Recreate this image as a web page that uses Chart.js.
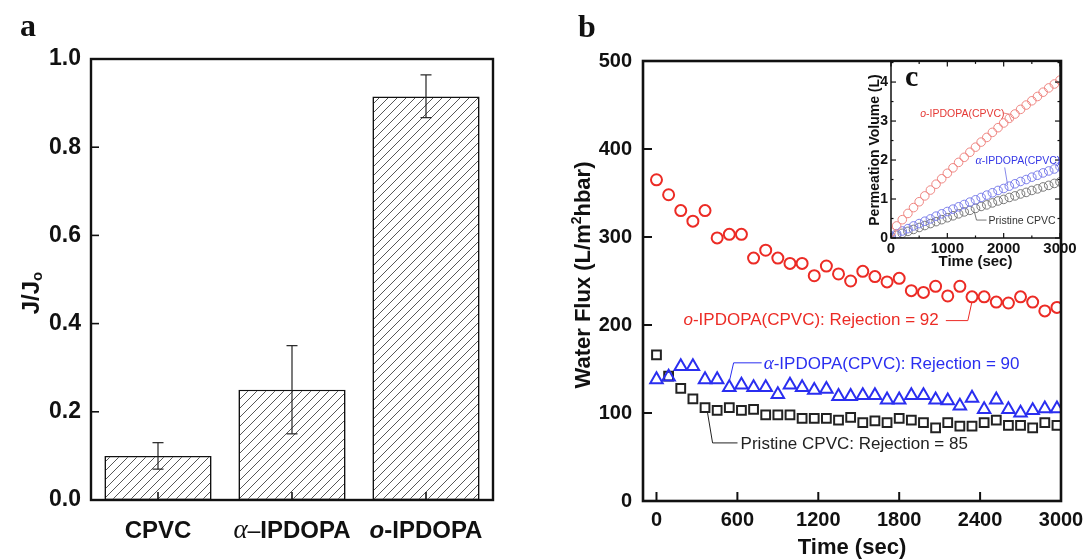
<!DOCTYPE html>
<html>
<head>
<meta charset="utf-8">
<script src="https://cdn.jsdelivr.net/npm/chart.js@4/dist/chart.umd.min.js"></script>
<style>
  html, body { margin:0; padding:0; background:#fff; }
  #wrap { position:relative; width:1083px; height:560px; overflow:hidden; background:#fff; }
  canvas { position:absolute; }
</style>
</head>
<body>
<div id="wrap">
  <canvas id="chartA" width="540" height="560" style="left:0;top:0;"></canvas>
  <canvas id="chartB" width="560" height="560" style="left:560px;top:0;"></canvas>
  <canvas id="chartC" width="233" height="230" style="left:850px;top:50px;"></canvas>
</div>
<script>
// ─── Data: panel a (J/Jo) ─────────────────────────────────────────────────────
const barLabels = ['CPVC', 'α–IPDOPA', 'o-IPDOPA'];
const ratioValues = [0.10, 0.25, 0.915];
const ratioErrLow = [0.07, 0.15, 0.867];
const ratioErrHigh = [0.13, 0.35, 0.964];
const ratioTicks = [0, 0.2, 0.4, 0.6, 0.8, 1.0];

// ─── Data: panel b (water flux) ───────────────────────────────────────────────
const timeSec = [0, 90, 180, 270, 360, 450, 540, 630, 720, 810, 900, 990, 1080, 1170, 1260, 1350, 1440,
  1530, 1620, 1710, 1800, 1890, 1980, 2070, 2160, 2250, 2340, 2430, 2520, 2610, 2700, 2790, 2880, 2970];
const fluxOIpdopa = [365, 348, 330, 318, 330, 299, 303, 303, 276, 285, 276, 270, 270, 256, 267, 258, 250,
  261, 255, 249, 253, 239, 237, 244, 233, 244, 232, 232, 226, 225, 232, 226, 216, 220];
const fluxAlphaIpdopa = [138, 141, 153, 153, 138, 138, 129, 132, 129, 129, 121, 132, 129, 126, 127, 119, 119,
  120, 120, 115, 115, 120, 120, 115, 114, 108, 117, 104, 115, 104, 100, 103, 105, 105];
const fluxPristine = [166, 142, 128, 116, 106, 103, 106, 103, 104, 98, 98, 98, 94, 94, 94, 92, 95,
  89, 91, 89, 94, 92, 89, 83, 89, 85, 85, 89, 92, 86, 86, 83, 89, 86];
const fluxTimeTicks = [0, 600, 1200, 1800, 2400, 3000];
const fluxTicks = [0, 100, 200, 300, 400, 500];

// ─── Data: inset c (permeation volume) ────────────────────────────────────────
const insetTime = [0, 100, 200, 300, 400, 500, 600, 700, 800, 900, 1000, 1100, 1200, 1300, 1400, 1500,
  1600, 1700, 1800, 1900, 2000, 2100, 2200, 2300, 2400, 2500, 2600, 2700, 2800, 2900, 3000];
const volOIpdopa = [0.15, 0.31, 0.47, 0.63, 0.78, 0.93, 1.08, 1.23, 1.38, 1.52, 1.66, 1.80, 1.94, 2.07, 2.20, 2.33,
  2.46, 2.58, 2.71, 2.83, 2.95, 3.07, 3.18, 3.30, 3.41, 3.52, 3.63, 3.74, 3.85, 3.95, 4.05];
const volAlphaIpdopa = [0.05, 0.11, 0.18, 0.24, 0.31, 0.37, 0.43, 0.49, 0.56, 0.62, 0.68, 0.74, 0.80, 0.86, 0.92, 0.98,
  1.04, 1.10, 1.16, 1.22, 1.27, 1.33, 1.39, 1.45, 1.50, 1.56, 1.61, 1.67, 1.72, 1.77, 1.83];
const volPristine = [0.02, 0.07, 0.12, 0.17, 0.22, 0.27, 0.32, 0.37, 0.42, 0.47, 0.52, 0.57, 0.62, 0.67, 0.71, 0.76,
  0.81, 0.85, 0.90, 0.95, 0.99, 1.04, 1.08, 1.13, 1.17, 1.22, 1.26, 1.31, 1.35, 1.40, 1.44];
const insetTimeTicks = [0, 1000, 2000, 3000];
const insetVolTicks = [0, 1, 2, 3, 4];

// ─── Style ────────────────────────────────────────────────────────────────────
const SANS = 'Arial, "Liberation Sans", sans-serif';
const SERIF = '"Times New Roman", "Liberation Serif", serif';
const INK = '#111';
const RED = '#ec2b25';
const BLUE = '#2a2ef0';
const BLACK = '#222';

function pairs(xs, ys) {
  return xs.map((x, i) => ({ x, y: ys[i] }));
}

function line(ctx, pts) {
  ctx.beginPath();
  ctx.moveTo(pts[0][0], pts[0][1]);
  for (let i = 1; i < pts.length; i++) ctx.lineTo(pts[i][0], pts[i][1]);
  ctx.stroke();
}

// draws text made of several font runs; parts = [[text, font, baselineShift], ...]
function drawRich(ctx, parts, x, y, align) {
  ctx.textBaseline = 'alphabetic';
  ctx.textAlign = 'left';
  let total = 0;
  parts.forEach(p => { ctx.font = p[1]; total += ctx.measureText(p[0]).width; });
  let cx = align === 'center' ? x - total / 2 : x;
  parts.forEach(p => {
    ctx.font = p[1];
    ctx.fillText(p[0], cx, y + (p[2] || 0));
    cx += ctx.measureText(p[0]).width;
  });
}

// inward tick marks + frame around the plot area
function frameTicks(id, o) {
  return {
    id,
    afterDatasetsDraw(chart) {
      const { ctx, chartArea: a, scales } = chart;
      const xs = scales.x, ys = scales.y;
      ctx.save();
      ctx.strokeStyle = INK;
      ctx.lineWidth = o.tickWidth;
      const yv = ys.ticks.map(t => t.value);
      const xv = xs.ticks.map(t => t.value);
      yv.forEach(v => {
        const p = ys.getPixelForValue(v);
        line(ctx, [[a.left, p], [a.left + o.tickLen, p]]);
        if (o.mirror) line(ctx, [[a.right, p], [a.right - o.tickLen, p]]);
      });
      xv.forEach(v => {
        const p = xs.getPixelForValue(v);
        line(ctx, [[p, a.bottom], [p, a.bottom - o.tickLen]]);
        if (o.mirror) line(ctx, [[p, a.top], [p, a.top + o.tickLen]]);
      });
      if (o.minor) {
        for (let i = 0; i < yv.length; i++) {
          const v = yv[i] + (yv[1] - yv[0]) / 2;
          if (v > ys.max) break;
          const p = ys.getPixelForValue(v);
          line(ctx, [[a.left, p], [a.left + o.tickLen / 2, p]]);
          line(ctx, [[a.right, p], [a.right - o.tickLen / 2, p]]);
        }
        for (let i = 0; i < xv.length - 1; i++) {
          const p = xs.getPixelForValue((xv[i] + xv[i + 1]) / 2);
          line(ctx, [[p, a.bottom], [p, a.bottom - o.tickLen / 2]]);
          line(ctx, [[p, a.top], [p, a.top + o.tickLen / 2]]);
        }
      }
      ctx.lineWidth = o.frameWidth;
      ctx.strokeRect(a.left, a.top, a.right - a.left, a.bottom - a.top);
      ctx.restore();
    }
  };
}

// ─── Panel a: bar chart with hatch + error bars ───────────────────────────────
const ctxA = document.getElementById('chartA').getContext('2d');
const hatch = (() => {
  const c = document.createElement('canvas');
  c.width = 9; c.height = 9;
  const g = c.getContext('2d');
  g.fillStyle = '#fff';
  g.fillRect(0, 0, 9, 9);
  g.strokeStyle = '#444';
  g.lineWidth = 0.9;
  g.beginPath();
  g.moveTo(-1, 10); g.lineTo(10, -1);
  g.moveTo(-1, 1); g.lineTo(1, -1);
  g.moveTo(8, 10); g.lineTo(10, 8);
  g.stroke();
  return ctxA.createPattern(c, 'repeat');
})();

const errorBars = {
  id: 'errorBars',
  afterDatasetsDraw(chart) {
    const { ctx, scales } = chart;
    ctx.save();
    ctx.strokeStyle = '#222';
    ctx.lineWidth = 1.2;
    ratioValues.forEach((v, i) => {
      const x = scales.x.getPixelForValue(i);
      const lo = scales.y.getPixelForValue(ratioErrLow[i]);
      const hi = scales.y.getPixelForValue(ratioErrHigh[i]);
      line(ctx, [[x, lo], [x, hi]]);
      line(ctx, [[x - 5.5, lo], [x + 5.5, lo]]);
      line(ctx, [[x - 5.5, hi], [x + 5.5, hi]]);
    });
    ctx.restore();
  }
};

const textA = {
  id: 'textA',
  afterDraw(chart) {
    const { ctx, scales } = chart;
    ctx.save();
    ctx.fillStyle = INK;
    const B = 'bold 24px ' + SANS;
    const rich = [
      [['CPVC', B]],
      [['α', 'italic 27px ' + SERIF], ['–', '23px ' + SANS], ['IPDOPA', B]],
      [['o', 'bold italic 24px ' + SANS], ['-IPDOPA', B]]
    ];
    rich.forEach((parts, i) => drawRich(ctx, parts, scales.x.getPixelForValue(i), 538, 'center'));
    // y title J/Jo
    ctx.translate(39, 293);
    ctx.rotate(-Math.PI / 2);
    drawRich(ctx, [['J/J', 'bold 24px ' + SANS], ['o', 'bold 15px ' + SANS, 3]], 0, 0, 'center');
    ctx.restore();
    ctx.save();
    ctx.fillStyle = INK;
    ctx.font = 'bold 32px ' + SERIF;
    ctx.textBaseline = 'alphabetic';
    ctx.fillText('a', 20, 36);
    ctx.restore();
  }
};

new Chart(ctxA, {
  type: 'bar',
  data: {
    labels: barLabels,
    datasets: [{
      data: ratioValues,
      backgroundColor: hatch,
      borderColor: INK,
      borderWidth: 1.6,
      borderSkipped: false,
      barPercentage: 0.8,
      categoryPercentage: 1.0
    }]
  },
  options: {
    animation: false,
    responsive: false,
    devicePixelRatio: 1,
    layout: { padding: { left: 0, top: 59, right: 47, bottom: 0 } },
    plugins: { legend: { display: false }, tooltip: { enabled: false } },
    scales: {
      x: {
        grid: { display: false, drawTicks: false },
        border: { display: false },
        ticks: { display: false },
        afterFit(s) { s.height = 60; }
      },
      y: {
        min: 0, max: 1,
        grid: { display: false, drawTicks: false },
        border: { display: false },
        afterBuildTicks(s) { s.ticks = ratioTicks.map(v => ({ value: v })); },
        ticks: {
          padding: 10,
          color: INK,
          font: { family: SANS, size: 23, weight: 'bold' },
          callback: v => Number(v).toFixed(1)
        },
        afterFit(s) { s.width = 91; }
      }
    }
  },
  plugins: [errorBars, frameTicks('frameA', { tickLen: 8, tickWidth: 1.6, frameWidth: 2.4 }), textA]
});

// ─── Panel b: water flux scatter ──────────────────────────────────────────────
const labelsB = {
  id: 'labelsB',
  afterDraw(chart) {
    const { ctx, scales, chartArea: a } = chart;
    const X = v => scales.x.getPixelForValue(v);
    const Y = v => scales.y.getPixelForValue(v);
    const R = '17px ' + SANS;
    ctx.save();
    // series annotations
    ctx.fillStyle = RED;
    drawRich(ctx, [['o', 'italic 17px ' + SANS], ['-IPDOPA(CPVC): Rejection = 92', R]], X(200), Y(200), 'left');
    ctx.fillStyle = BLUE;
    drawRich(ctx, [['α', 'italic 19px ' + SERIF], ['-IPDOPA(CPVC): Rejection = 90', R]], X(795), Y(150), 'left');
    ctx.fillStyle = BLACK;
    drawRich(ctx, [['Pristine CPVC: Rejection = 85', R]], X(624), Y(59), 'left');
    ctx.lineWidth = 1;
    ctx.strokeStyle = RED;
    line(ctx, [[X(2146), Y(205)], [X(2309), Y(205)], [X(2339), Y(226)]]);
    ctx.strokeStyle = BLUE;
    line(ctx, [[X(780), Y(157)], [X(572), Y(157)], [X(542), Y(137)]]);
    ctx.strokeStyle = BLACK;
    line(ctx, [[X(601), Y(66)], [X(416), Y(66)], [X(379), Y(100)]]);
    // axis titles
    ctx.fillStyle = INK;
    ctx.font = 'bold 22px ' + SANS;
    ctx.textAlign = 'center';
    ctx.textBaseline = 'middle';
    ctx.fillText('Time (sec)', (a.left + a.right) / 2, 548);
    ctx.translate(30, 275);
    ctx.rotate(-Math.PI / 2);
    drawRich(ctx, [['Water Flux (L/m', 'bold 22px ' + SANS], ['2', 'bold 14px ' + SANS, -9], ['hbar)', 'bold 22px ' + SANS]], 0, 0, 'center');
    ctx.restore();
    ctx.save();
    ctx.fillStyle = INK;
    ctx.font = 'bold 32px ' + SERIF;
    ctx.textBaseline = 'alphabetic';
    ctx.fillText('b', 18, 37);
    ctx.restore();
  }
};

new Chart(document.getElementById('chartB'), {
  type: 'scatter',
  data: {
    datasets: [
      { data: pairs(timeSec, fluxOIpdopa), pointStyle: 'circle', pointRadius: 5.5, borderWidth: 2,
        borderColor: RED, backgroundColor: 'rgba(0,0,0,0)' },
      { data: pairs(timeSec, fluxAlphaIpdopa), pointStyle: 'triangle', pointRadius: 7.2, borderWidth: 2,
        borderColor: BLUE, backgroundColor: 'rgba(0,0,0,0)' },
      { data: pairs(timeSec, fluxPristine), pointStyle: 'rect', pointRadius: 6.2, borderWidth: 2,
        borderColor: BLACK, backgroundColor: 'rgba(0,0,0,0)' }
    ]
  },
  options: {
    animation: false,
    responsive: false,
    devicePixelRatio: 1,
    layout: { padding: { left: 0, top: 61, right: 59, bottom: 0 } },
    plugins: { legend: { display: false }, tooltip: { enabled: false } },
    scales: {
      x: {
        type: 'linear', min: -100, max: 3000,
        grid: { display: false, drawTicks: false },
        border: { display: false },
        afterBuildTicks(s) { s.ticks = fluxTimeTicks.map(v => ({ value: v })); },
        ticks: { padding: 7, color: INK, maxRotation: 0, font: { family: SANS, size: 20, weight: 'bold' },
          callback: v => String(v) },
        afterFit(s) { s.height = 59; }
      },
      y: {
        min: 0, max: 500,
        grid: { display: false, drawTicks: false },
        border: { display: false },
        afterBuildTicks(s) { s.ticks = fluxTicks.map(v => ({ value: v })); },
        ticks: { padding: 11, color: INK, font: { family: SANS, size: 20, weight: 'bold' },
          callback: v => String(v) },
        afterFit(s) { s.width = 83; }
      }
    }
  },
  plugins: [frameTicks('frameB', { tickLen: 9, tickWidth: 2, frameWidth: 2.6 }), labelsB]
});

// ─── Inset c: permeation volume ───────────────────────────────────────────────
const insetBg = {
  id: 'insetBg',
  beforeDraw(chart) {
    const { ctx, chartArea: a } = chart;
    ctx.save();
    ctx.fillStyle = '#fff';
    ctx.fillRect(a.left, a.top, a.right - a.left, a.bottom - a.top);
    ctx.restore();
  }
};

const labelsC = {
  id: 'labelsC',
  afterDraw(chart) {
    const { ctx, scales, chartArea: a } = chart;
    const X = v => scales.x.getPixelForValue(v);
    const Y = v => scales.y.getPixelForValue(v);
    const S = '10.5px ' + SANS;
    ctx.save();
    ctx.fillStyle = '#e53a36';
    drawRich(ctx, [['o', 'italic 10.5px ' + SANS], ['-IPDOPA(CPVC)', S]], X(518), Y(3.11), 'left');
    ctx.fillStyle = '#3537e6';
    drawRich(ctx, [['α', 'italic 12px ' + SERIF], ['-IPDOPA(CPVC)', S]], X(1500), Y(1.91), 'left');
    ctx.fillStyle = '#333';
    drawRich(ctx, [['Pristine CPVC', S]], X(1732), Y(0.36), 'left');
    ctx.lineWidth = 0.8;
    ctx.strokeStyle = '#e56a66';
    line(ctx, [[X(1982), Y(3.21)], [X(2089), Y(3.18)], [X(2143), Y(3.0)]]);
    ctx.strokeStyle = '#6a6ce6';
    line(ctx, [[X(2018), Y(1.81)], [X(2071), Y(1.35)]]);
    ctx.strokeStyle = '#555';
    line(ctx, [[X(1696), Y(0.46)], [X(1518), Y(0.46)], [X(1482), Y(0.66)]]);
    ctx.fillStyle = INK;
    ctx.font = 'bold 15px ' + SANS;
    ctx.textAlign = 'center';
    ctx.textBaseline = 'middle';
    ctx.fillText('Time (sec)', (a.left + a.right) / 2, 212);
    ctx.translate(29, 100);
    ctx.rotate(-Math.PI / 2);
    ctx.textBaseline = 'alphabetic';
    ctx.font = 'bold 14px ' + SANS;
    ctx.fillText('Permeation Volume (L)', 0, 0);
    ctx.restore();
    ctx.save();
    ctx.fillStyle = INK;
    ctx.font = 'bold 30px ' + SERIF;
    ctx.textBaseline = 'alphabetic';
    ctx.fillText('c', 55, 36);
    ctx.restore();
  }
};

const insetSet = (ys, color) => ({
  data: pairs(insetTime, ys), pointStyle: 'circle', pointRadius: 4.3, borderWidth: 1,
  borderColor: color, backgroundColor: 'rgba(255,255,255,0)'
});

new Chart(document.getElementById('chartC'), {
  type: 'scatter',
  data: {
    datasets: [
      insetSet(volOIpdopa, '#f08884'),
      insetSet(volAlphaIpdopa, '#7c7fec'),
      insetSet(volPristine, '#7a7a7a')
    ]
  },
  options: {
    animation: false,
    responsive: false,
    devicePixelRatio: 1,
    layout: { padding: { left: 0, top: 10, right: 23, bottom: 0 } },
    plugins: { legend: { display: false }, tooltip: { enabled: false } },
    scales: {
      x: {
        type: 'linear', min: 0, max: 3000,
        grid: { display: false, drawTicks: false },
        border: { display: false },
        afterBuildTicks(s) { s.ticks = insetTimeTicks.map(v => ({ value: v })); },
        ticks: { padding: 2, color: INK, maxRotation: 0, font: { family: SANS, size: 15, weight: 'bold' },
          callback: v => String(v) },
        afterFit(s) { s.height = 42; }
      },
      y: {
        min: 0, max: 4.53,
        grid: { display: false, drawTicks: false },
        border: { display: false },
        afterBuildTicks(s) { s.ticks = insetVolTicks.map(v => ({ value: v })); },
        ticks: { padding: 3, color: INK, font: { family: SANS, size: 14, weight: 'bold' },
          callback: v => String(v) },
        afterFit(s) { s.width = 41; }
      }
    }
  },
  plugins: [insetBg, frameTicks('frameC', { tickLen: 5, tickWidth: 1.2, frameWidth: 1.5, mirror: true, minor: true }), labelsC]
});
</script>
</body>
</html>
